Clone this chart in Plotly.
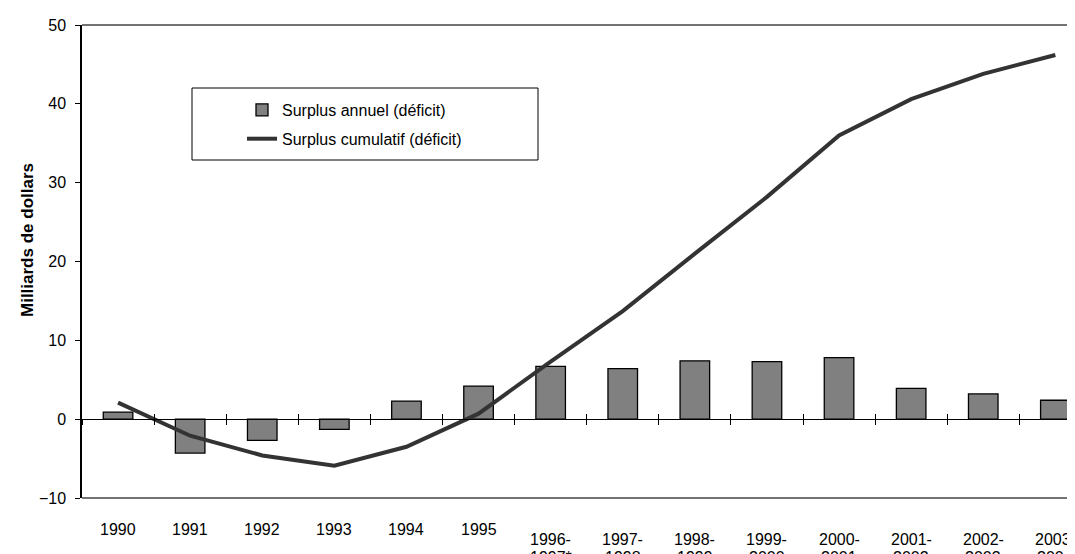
import plotly.graph_objects as go

categories = ["1990", "1991", "1992", "1993", "1994", "1995", "1996-<br>1997*",
              "1997-<br>1998", "1998-<br>1999", "1999-<br>2000", "2000-<br>2001",
              "2001-<br>2002", "2002-<br>2003", "2003-<br>2004"]
annual = [0.9, -4.3, -2.7, -1.3, 2.3, 4.2, 6.7, 6.4, 7.4, 7.3, 7.8, 3.9, 3.2, 2.4]
cumulative = [2.1, -2.1, -4.6, -5.9, -3.5, 0.7, 7.3, 13.7, 21.0, 28.2, 36.0, 40.6, 43.8, 46.2]
y_ticks = [-10, 0, 10, 20, 30, 40, 50]

FONT = "Arial, Liberation Sans, sans-serif"
W, H = 1075, 554
L, R, T, B = 74, 0, 17, 64
PW, PH = W - L - R, H - T - B

def px_x(p):
    return (p - L) / PW

def px_y(p):
    return (H - B - p) / PH

fig = go.Figure()
fig.add_trace(go.Bar(
    x=categories, y=annual, name="Surplus annuel (déficit)",
    marker=dict(color="#808080", line=dict(color="#000000", width=1.3)),
    width=0.41, legendgroup="a",
))
fig.add_trace(go.Scatter(
    x=categories, y=cumulative, name="Surplus cumulatif (déficit)",
    mode="lines", line=dict(color="#333333", width=4), legendgroup="b",
    xaxis="x2",
))

zero_pos = (0 - y_ticks[0]) / (y_ticks[-1] - y_ticks[0])
xrange = [-0.5, -0.5 + PW / 72.1]

fig.update_layout(
    width=W, height=H,
    margin=dict(l=L, r=R, t=T, b=B),
    paper_bgcolor="white", plot_bgcolor="white",
    font=dict(family=FONT, size=16, color="#000000"),
    showlegend=True,
    legend=dict(x=px_x(234), y=px_y(85), xanchor="left", yanchor="top",
                bgcolor="rgba(0,0,0,0)", borderwidth=0,
                font=dict(family=FONT, size=16, color="#000000"),
                traceorder="grouped", tracegroupgap=5),
    xaxis=dict(type="category", categoryorder="array", categoryarray=categories,
               range=xrange, anchor="free", position=zero_pos,
               showline=True, linecolor="#000000", linewidth=1,
               ticks="outside", ticklen=5, tickcolor="#000000", tickson="boundaries",
               showticklabels=False, showgrid=False, zeroline=False),
    xaxis2=dict(type="category", categoryorder="array", categoryarray=categories,
                range=xrange, anchor="free", position=zero_pos, overlaying="x",
                showline=False, ticks="inside", ticklen=5, tickcolor="#000000",
                tickson="boundaries", showticklabels=False, showgrid=False, zeroline=False),
    yaxis=dict(range=[y_ticks[0], y_ticks[-1]], tickvals=y_ticks,
               showline=True, linecolor="#000000", linewidth=1.5,
               ticks="outside", ticklen=5, tickcolor="#000000",
               ticklabelstandoff=6,
               tickfont=dict(family=FONT, size=16, color="#000000"),
               showgrid=False, zeroline=False),
    yaxis2=dict(range=[y_ticks[0], y_ticks[-1]], tickvals=y_ticks, overlaying="y",
                anchor="x", showline=False, ticks="inside", ticklen=5, tickcolor="#000000",
                showticklabels=False, showgrid=False, zeroline=False),
)

# frame lines (top at max, bottom at min)
for yy in (0, 1):
    fig.add_shape(type="line", xref="paper", yref="paper", x0=0, x1=1, y0=yy, y1=yy,
                  line=dict(color="#444444", width=1.3))
# legend box
fig.add_shape(type="rect", xref="paper", yref="paper",
              x0=px_x(184), x1=px_x(530), y0=px_y(152), y1=px_y(80),
              line=dict(color="#000000", width=1), fillcolor="rgba(0,0,0,0)")

# category labels (single-line labels sit higher than two-line ones, as in the source)
for i, c in enumerate(categories):
    lines = c.split("<br>")
    if len(lines) == 1:
        centers = [521]
    else:
        centers = [531, 549]
    for txt, cy in zip(lines, centers):
        fig.add_annotation(x=i, xref="x", y=px_y(cy), yref="paper",
                           text=txt, showarrow=False, yanchor="middle", xanchor="center",
                           font=dict(family=FONT, size=16, color="#000000"))

# y title
fig.add_annotation(x=px_x(19), xref="paper", y=px_y(232), yref="paper",
                   text="<b>Milliards de dollars</b>", textangle=-90, showarrow=False,
                   xanchor="center", yanchor="middle",
                   font=dict(family=FONT, size=17, color="#000000"))

fig.write_html("out.html")
